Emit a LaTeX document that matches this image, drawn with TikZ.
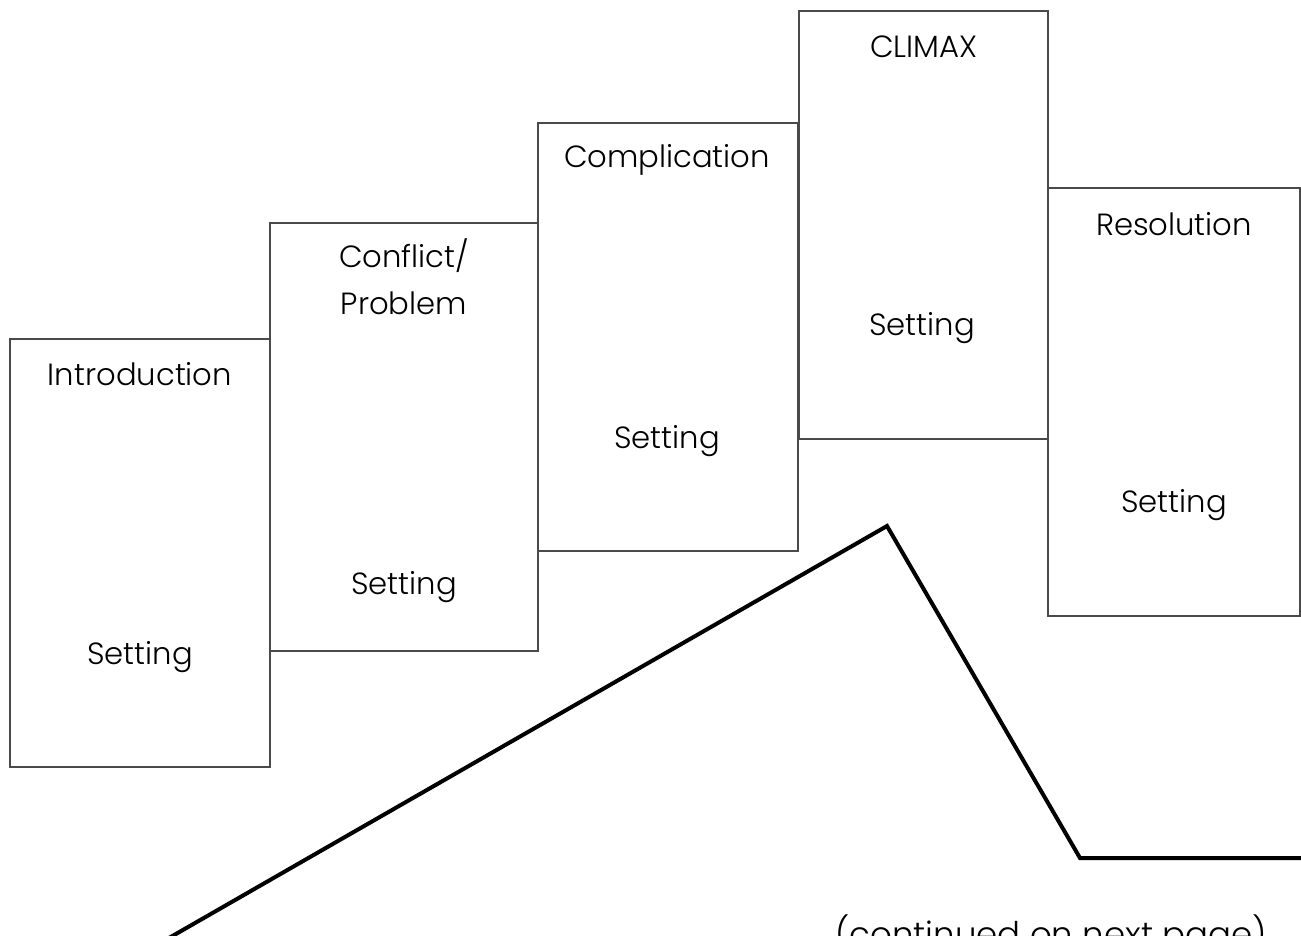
\documentclass[tikz,border=0pt]{standalone}
\usepackage{fontspec}
\IfFontExistsTF{Poppins Light}{\setmainfont{Poppins Light}}{\setmainfont{Poppins}}
\usepackage{xcolor}
\usetikzlibrary{calc}
\definecolor{frame}{HTML}{4A4A4A}
\definecolor{ink}{HTML}{000000}
\tikzset{
  box/.style={draw=frame, line width=1.1pt},
  plot/.style={draw=ink, line width=3pt, line join=miter},
  lab/.style={text=ink, font=\fontsize{23}{27}\selectfont, anchor=base, inner sep=0pt},
}

\begin{document}
\begin{tikzpicture}[x=0.75pt,y=-0.75pt]
  \useasboundingbox (0,0) rectangle (1301,935);
  \clip (0,0) rectangle (1301,935);

  % stage boxes
  \coordinate (intA) at (10,339);   \coordinate (intB) at (270,767);
  \coordinate (conA) at (270,223);  \coordinate (conB) at (538,651);
  \coordinate (comA) at (538,123);  \coordinate (comB) at (798,551);
  \coordinate (cliA) at (799,11);   \coordinate (cliB) at (1048,439);
  \coordinate (resA) at (1048,188); \coordinate (resB) at (1300,616);

  \draw[box] (intA) rectangle (intB);
  \draw[box] (conA) rectangle (conB);
  \draw[box] (comA) rectangle (comB);
  \draw[box] (cliA) rectangle (cliB);
  \draw[box] (resA) rectangle (resB);

  % labels
  \node[lab] (intro) at (140,385) {Introduction};
  \node[lab] (introSet) at (140,664) {Setting};
  \node[lab] (confl) at (404,267) {Conflict/};
  \node[lab] (probl) at (404,314) {Problem};
  \node[lab] (conflSet) at (404,594) {Setting};
  \node[lab] (compl) at (667,167) {Complication};
  \node[lab] (complSet) at (667,448) {Setting};
  \node[lab] (climax) at (924,57) {CLIMAX};
  \node[lab] (climaxSet) at (922,335) {Setting};
  \node[lab] (resol) at (1174,235) {Resolution};
  \node[lab] (resolSet) at (1174,512) {Setting};

  % plot line
  \coordinate (start) at (148,950);
  \coordinate (peak) at (887,526);
  \coordinate (foot) at (1080,858);
  \coordinate (tail) at (1310,858);
  \draw[plot] (start)--(peak)--(foot)--(tail);

  \node[lab, font=\fontsize{25.5}{30}\selectfont] (cont) at (1051,946) {(continued on next page)};
\end{tikzpicture}
\end{document}
